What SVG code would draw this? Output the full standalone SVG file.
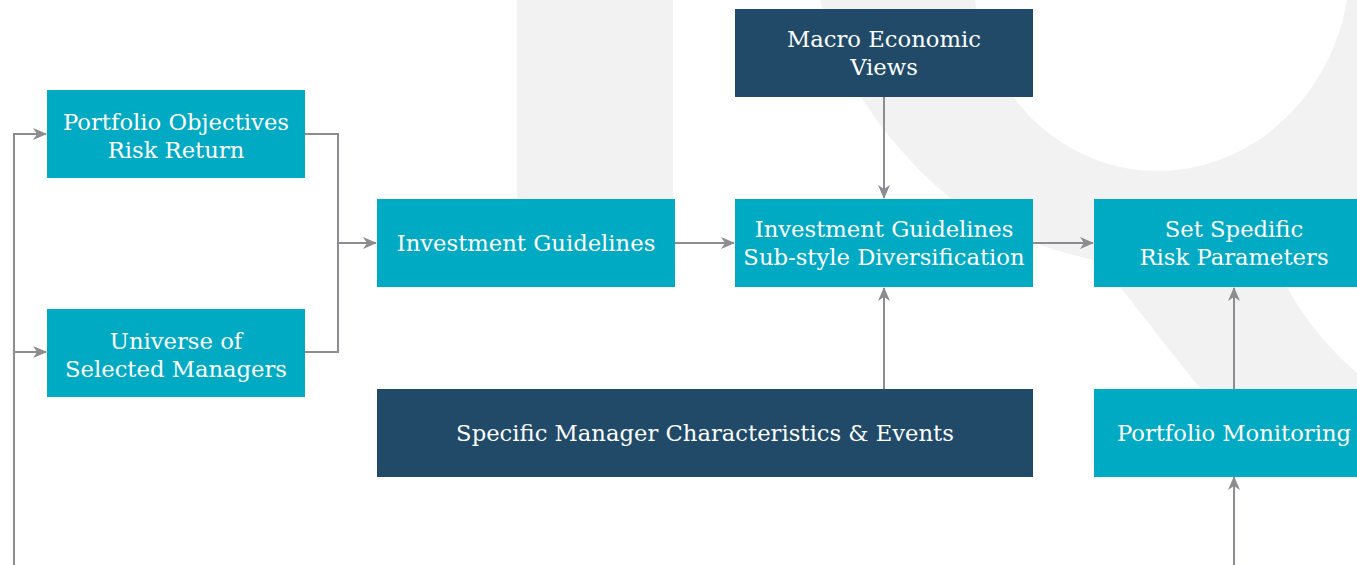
<svg xmlns="http://www.w3.org/2000/svg" width="1357" height="565" viewBox="0 0 1357 565">
<defs>
<style>
.teal{fill:#00aac3}
.navy{fill:#204a68}
.lbl{font-family:"DejaVu Serif","Liberation Serif",serif;font-size:22.7px;fill:#ffffff;text-anchor:middle}
.conn{fill:none;stroke:#8d8d91;stroke-width:2}
.bg{fill:#f2f2f2}
</style>
<marker id="arr" viewBox="0 0 14 12" refX="13" refY="6" markerWidth="14" markerHeight="12" markerUnits="userSpaceOnUse" orient="auto">
<path d="M0,0 L14,6 L0,12 L4,6 Z" fill="#8d8d91"/>
</marker>
</defs>
<rect width="1357" height="565" fill="#ffffff"/>
<g id="background">
<rect class="bg" x="517" y="0" width="156" height="240"/>
<path class="bg" fill-rule="evenodd" d="M820,0 C835,60 870,130 950,198 C985,225 1030,245 1093,260 L1105,268 C1135,305 1165,345 1200,388 C1230,420 1280,450 1357,470 L1357,373 C1330,350 1305,320 1287,287 L1240,230 L1357,210 L1357,0 Z M975,0 C990,110 1075,171 1157,171 C1250,171 1330,100 1347,0 Z"/>
</g>
<g id="connectors">
<path class="conn" d="M14,565 L14,134 L46,134" marker-end="url(#arr)"/>
<path class="conn" d="M14,352 L46,352" marker-end="url(#arr)"/>
<path class="conn" d="M305,134 L338,134 L338,352 L305,352"/>
<path class="conn" d="M338,243 L376,243" marker-end="url(#arr)"/>
<path class="conn" d="M675,243 L734,243" marker-end="url(#arr)"/>
<path class="conn" d="M1033,243 L1093,243" marker-end="url(#arr)"/>
<path class="conn" d="M884,97 L884,198" marker-end="url(#arr)"/>
<path class="conn" d="M884,389 L884,288" marker-end="url(#arr)"/>
<path class="conn" d="M1234,389 L1234,288" marker-end="url(#arr)"/>
<path class="conn" d="M1234,565 L1234,477" marker-end="url(#arr)"/>
</g>
<g id="portfolio-objectives">
<rect class="teal" x="47" y="90" width="258" height="88"/>
<text class="lbl" x="176" y="129.5">Portfolio Objectives</text>
<text class="lbl" x="176" y="157.5">Risk Return</text>
</g>
<g id="universe-managers">
<rect class="teal" x="47" y="309" width="258" height="88"/>
<text class="lbl" x="176" y="348.5">Universe of</text>
<text class="lbl" x="176" y="376.5">Selected Managers</text>
</g>
<g id="investment-guidelines">
<rect class="teal" x="377" y="199" width="298" height="88"/>
<text class="lbl" x="526" y="251">Investment Guidelines</text>
</g>
<g id="macro-economic-views">
<rect class="navy" x="735" y="9" width="298" height="88"/>
<text class="lbl" x="884" y="47">Macro Economic</text>
<text class="lbl" x="884" y="75">Views</text>
</g>
<g id="substyle-diversification">
<rect class="teal" x="735" y="199" width="298" height="88"/>
<text class="lbl" x="884" y="236.5">Investment Guidelines</text>
<text class="lbl" x="884" y="264.5">Sub-style Diversification</text>
</g>
<g id="risk-parameters">
<rect class="teal" x="1094" y="199" width="280" height="88"/>
<text class="lbl" x="1234" y="236.5">Set Spedific</text>
<text class="lbl" x="1234" y="264.5">Risk Parameters</text>
</g>
<g id="manager-characteristics">
<rect class="navy" x="377" y="389" width="656" height="88"/>
<text class="lbl" x="705" y="441">Specific Manager Characteristics &amp; Events</text>
</g>
<g id="portfolio-monitoring">
<rect class="teal" x="1094" y="389" width="280" height="88"/>
<text class="lbl" x="1234" y="441">Portfolio Monitoring</text>
</g>
</svg>
